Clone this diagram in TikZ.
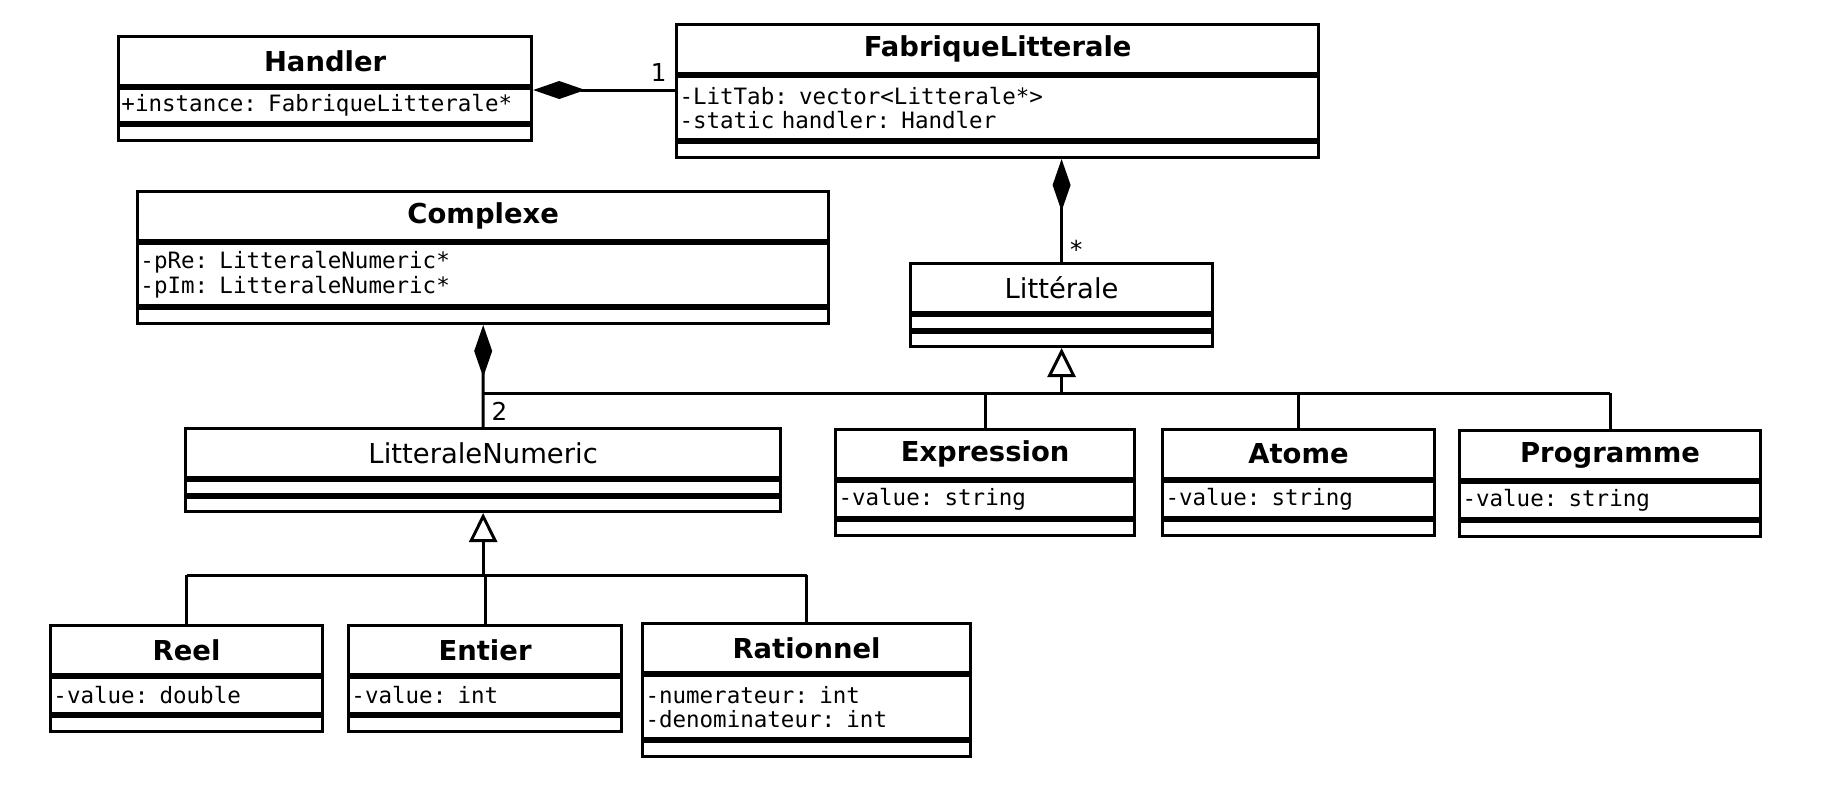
\documentclass[tikz,border=0pt]{standalone}
\usepackage{fontspec}
\setmainfont{DejaVu Sans}
\newfontfamily\monofont{DejaVu Sans Mono}
\usetikzlibrary{positioning,arrows.meta}

\begin{document}
\begin{tikzpicture}[x=0.01cm, y=-0.01cm, line width=0.85pt,
  cname/.style={draw, anchor=north west, inner sep=0pt, minimum height=0.49cm, font=\fontsize{7.8}{9}\selectfont\bfseries},
  cnamei/.style={cname, font=\fontsize{7.8}{9}\selectfont},
  cattr/.style={draw, anchor=north, inner xsep=0.03cm, inner ysep=0pt, align=left, font=\monofont\fontsize{6.4}{7}\selectfont},
  cops/.style={draw, anchor=north, inner sep=0pt, minimum height=0.15cm},
  comp/.style={{Diamond[length=0.52cm, width=0.18cm]}-},
  gen/.style={-{Triangle[open, length=0.29cm, width=0.28cm]}},
  mult/.style={font=\fontsize{7}{8}\selectfont, inner sep=2pt}]
\useasboundingbox (0,0) rectangle (1830,800);

\node[cname, minimum width=4.13cm] (handler) at (117,35) {Handler};
\node[cattr, text width=4.07cm, minimum height=0.34cm, below=0pt of handler] (handlerA) {+instance: FabriqueLitterale*};
\node[cops, minimum width=4.13cm, below=0pt of handlerA] (handlerO) {};

\node[cname, minimum width=6.42cm] (fab) at (675,23) {FabriqueLitterale};
\node[cattr, text width=6.36cm, minimum height=0.63cm, below=0pt of fab] (fabA) {-LitTab: vector<Litterale*>\\-static handler: Handler};
\node[cops, minimum width=6.42cm, below=0pt of fabA] (fabO) {};

\node[cname, minimum width=6.91cm] (cplx) at (136,190) {Complexe};
\node[cattr, text width=6.85cm, minimum height=0.62cm, below=0pt of cplx] (cplxA) {-pRe: LitteraleNumeric*\\-pIm: LitteraleNumeric*};
\node[cops, minimum width=6.91cm, below=0pt of cplxA] (cplxO) {};

\node[cnamei, minimum width=3.02cm] (lit) at (909,262) {Littérale};
\node[cattr, text width=2.96cm, minimum height=0.14cm, below=0pt of lit] (litA) {};
\node[cops, minimum width=3.02cm, minimum height=0.14cm, below=0pt of litA] (litO) {};

\node[cnamei, minimum width=5.95cm] (num) at (184,427) {LitteraleNumeric};
\node[cattr, text width=5.89cm, minimum height=0.14cm, below=0pt of num] (numA) {};
\node[cops, minimum width=5.95cm, minimum height=0.14cm, below=0pt of numA] (numO) {};

\node[cname, minimum width=2.99cm] (expr) at (834,428) {Expression};
\node[cattr, text width=2.93cm, minimum height=0.36cm, below=0pt of expr] (exprA) {-value: string};
\node[cops, minimum width=2.99cm, below=0pt of exprA] (exprO) {};

\node[cname, minimum width=2.72cm] (atome) at (1161,428) {Atome};
\node[cattr, text width=2.66cm, minimum height=0.36cm, below=0pt of atome] (atomeA) {-value: string};
\node[cops, minimum width=2.72cm, below=0pt of atomeA] (atomeO) {};

\node[cname, minimum width=3.01cm] (prog) at (1458,429) {Programme};
\node[cattr, text width=2.95cm, minimum height=0.36cm, below=0pt of prog] (progA) {-value: string};
\node[cops, minimum width=3.01cm, below=0pt of progA] (progO) {};

\node[cname, minimum width=2.72cm] (reel) at (49,624) {Reel};
\node[cattr, text width=2.66cm, minimum height=0.36cm, below=0pt of reel] (reelA) {-value: double};
\node[cops, minimum width=2.72cm, below=0pt of reelA] (reelO) {};

\node[cname, minimum width=2.73cm] (entier) at (347,624) {Entier};
\node[cattr, text width=2.67cm, minimum height=0.36cm, below=0pt of entier] (entierA) {-value: int};
\node[cops, minimum width=2.73cm, below=0pt of entierA] (entierO) {};

\node[cname, minimum width=3.28cm] (rat) at (641,622) {Rationnel};
\node[cattr, text width=3.22cm, minimum height=0.63cm, below=0pt of rat] (ratA) {-numerateur: int\\-denominateur: int};
\node[cops, minimum width=3.28cm, below=0pt of ratA] (ratO) {};

\coordinate (hl) at ([yshift=-0.03cm]handlerA.north east);
\draw[comp] (hl) -- (hl -| fabA.west) node[mult, above left] {1};
\draw[comp] (fabO.south -| lit.north) -- (lit.north) node[mult, pos=0.88, right] {*};
\draw[comp] (cplxO.south) -- (num.north) node[mult, pos=0.85, right] {2};

\coordinate (litbar) at ([yshift=-0.45cm]litO.south);
\draw[gen] (litbar) -- (litO.south);
\draw (num.north |- litbar) -- (prog.north |- litbar);
\draw (expr.north) -- (expr.north |- litbar);
\draw (atome.north) -- (atome.north |- litbar);
\draw (prog.north) -- (prog.north |- litbar);

\coordinate (numbar) at ([yshift=-0.62cm]numO.south);
\draw[gen] (numbar) -- (numO.south);
\draw (reel.north |- numbar) -- (rat.north |- numbar);
\draw (reel.north) -- (reel.north |- numbar);
\draw (entier.north) -- (entier.north |- numbar);
\draw (rat.north) -- (rat.north |- numbar);
\end{tikzpicture}
\end{document}
